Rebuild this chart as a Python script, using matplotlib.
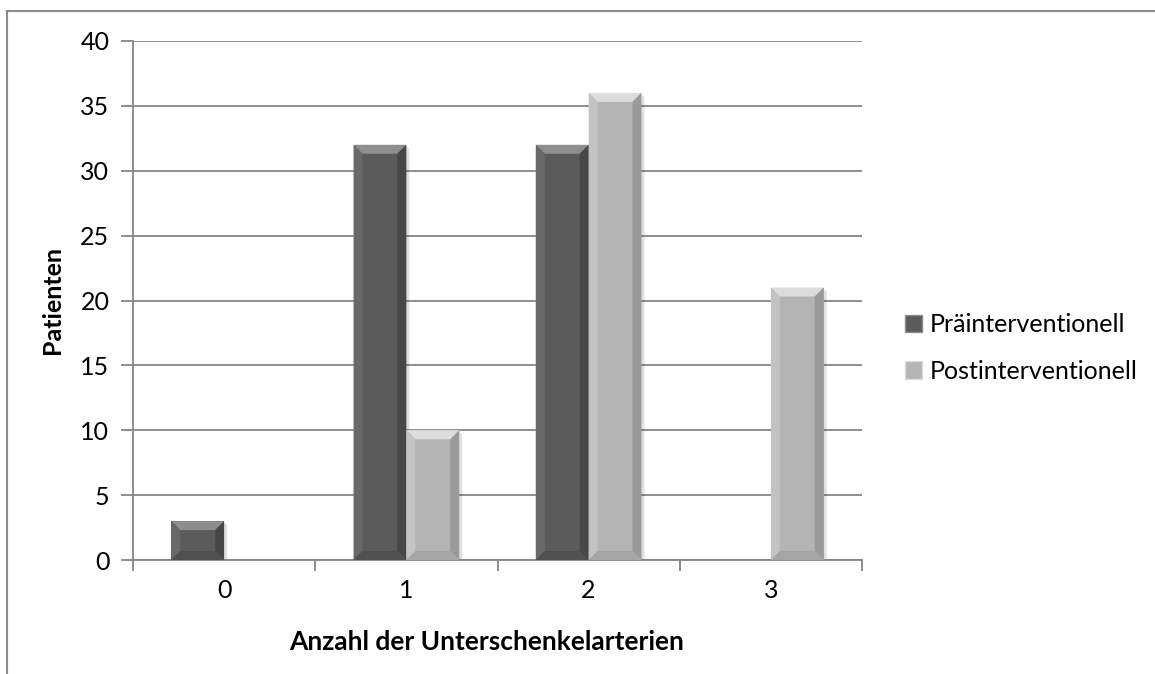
import numpy as np
import matplotlib.pyplot as plt
from matplotlib.patches import Polygon, Patch
from matplotlib.lines import Line2D

# Patient counts per number of open lower-leg arteries
categories = ['0', '1', '2', '3']
pre_values = [3, 32, 32, 0]
post_values = [0, 10, 36, 21]
series_names = ['Präinterventionell', 'Postinterventionell']

plt.rcParams['font.family'] = ['Lato', 'DejaVu Sans']

fig = plt.figure(figsize=(11.55, 6.74), dpi=100)
ax = fig.add_axes([133 / 1155, 1 - 560 / 674, (862 - 133) / 1155, (560 - 41) / 674])

x = np.arange(len(categories))
width = 0.29
colors = {'pre': ('#5b5b5b', '#8e8e8e', '#474747', '#696969', '#505050'),
          'post': ('#b4b4b4', '#dcdcdc', '#9a9a9a', '#c3c3c3', '#a6a6a6')}

bars_pre = ax.bar(x - width / 2, pre_values, width, color=colors['pre'][0], zorder=3)
bars_post = ax.bar(x + width / 2, post_values, width, color=colors['post'][0], zorder=3)


def add_bevel(bars, palette, depth=9):
    # bevelled edges in pixel units, mapped back to data coords
    main, top, right, left, bottom = palette
    inv = ax.transData.inverted()
    for b in bars:
        if b.get_height() <= 0:
            continue
        x0, y0 = ax.transData.transform((b.get_x(), 0))
        x1, y1 = ax.transData.transform((b.get_x() + b.get_width(), b.get_height()))
        d = min(depth, (y1 - y0) / 2)
        faces = [
            ([(x0, y1), (x1, y1), (x1 - d, y1 - d), (x0 + d, y1 - d)], top),
            ([(x1, y1), (x1, y0), (x1 - d, y0 + d), (x1 - d, y1 - d)], right),
            ([(x0, y1), (x0 + d, y1 - d), (x0 + d, y0 + d), (x0, y0)], left),
            ([(x0, y0), (x0 + d, y0 + d), (x1 - d, y0 + d), (x1, y0)], bottom),
        ]
        for pts, c in faces:
            ax.add_patch(Polygon(inv.transform(pts), closed=True, facecolor=c,
                                 edgecolor='none', zorder=4))
        # soft shadow to the lower right
        sh = inv.transform([(x1, y1 - 2), (x1 + 3, y1 - 4), (x1 + 3, y0 - 3), (x0 + 3, y0 - 3), (x0, y0)])
        ax.add_patch(Polygon(sh, closed=True, facecolor='#000000', alpha=0.12,
                             edgecolor='none', zorder=2.5))


ax.set_xlim(-0.5, len(categories) - 0.5)
ax.set_ylim(0, 40)
add_bevel(bars_pre, colors['pre'])
add_bevel(bars_post, colors['post'])

ax.set_yticks(np.arange(0, 41, 5))
ax.yaxis.grid(True, color='#868686', linewidth=1.3, zorder=0)
ax.set_axisbelow(True)
ax.set_xticks(x)
ax.set_xticklabels(categories)
ax.set_xticks(np.arange(-0.5, len(categories), 1), minor=True)
ax.tick_params(axis='x', which='major', length=0, labelsize=18, pad=14)
ax.tick_params(axis='x', which='minor', length=8, width=1.3, color='#868686')
ax.tick_params(axis='y', length=9, width=1.3, color='#868686', labelsize=18, pad=8)

for side in ['top', 'right']:
    ax.spines[side].set_visible(False)
for side in ['left', 'bottom']:
    ax.spines[side].set_color('#868686')
    ax.spines[side].set_linewidth(1.3)

ax.set_xlabel('Anzahl der Unterschenkelarterien', fontsize=19, fontweight='bold', labelpad=15)
ax.set_ylabel('Patienten', fontsize=18, fontweight='bold', labelpad=12)
ax.xaxis.set_label_coords(0.485, -0.135)

handles = [Patch(facecolor=colors['pre'][0], edgecolor='#8e8e8e'),
           Patch(facecolor=colors['post'][0], edgecolor='#dcdcdc')]
fig.legend(handles, series_names, loc='center left', bbox_to_anchor=(892 / 1155, 1 - 348 / 674),
           frameon=False, fontsize=18, handlelength=0.7, handleheight=0.7, borderpad=0,
           handletextpad=0.3, labelspacing=0.95)

# outer chart frame
fig.add_artist(Line2D([7 / 1155, 7 / 1155], [0, 1 - 11 / 674], color='#8a8a8a', linewidth=1.5))
fig.add_artist(Line2D([7 / 1155, 1], [1 - 11 / 674, 1 - 11 / 674], color='#8a8a8a', linewidth=1.5))

fig.savefig('out.png', dpi=100)
